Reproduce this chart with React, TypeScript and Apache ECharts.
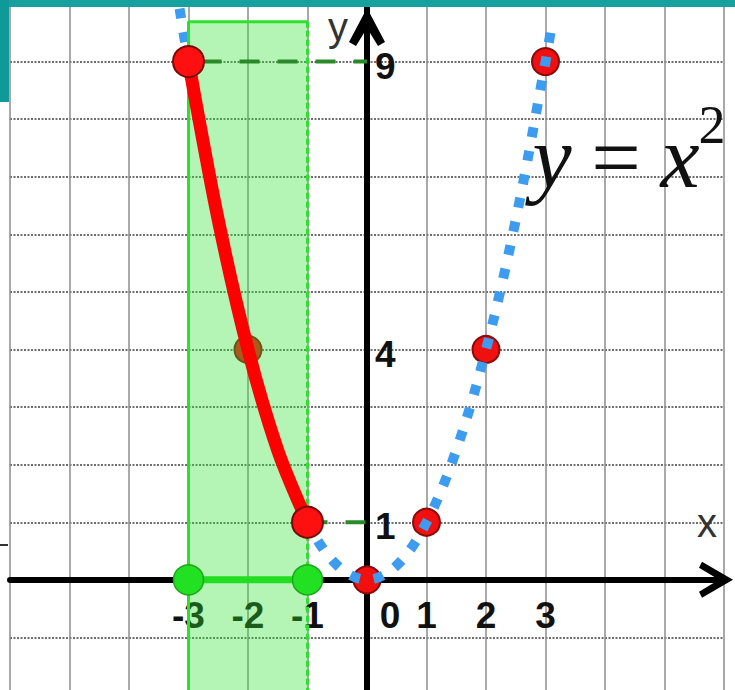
import React, { useEffect, useRef } from 'react';
import * as echarts from 'echarts';

// ---- data ----
const xTickLabels = ['-3', '-2', '-1', '0', '1', '2', '3'];
const yTickLabels = ['1', '4', '9'];

// dotted blue parabola y = x^2
const parabolaX = [-3.15, -3, -2.5, -2, -1.5, -1, -0.5, 0, 0.5, 1, 1.5, 2, 2.5, 3, 3.12];
const parabolaY = [9.92, 9, 6.25, 4, 2.25, 1, 0.25, 0, 0.25, 1, 2.25, 4, 6.25, 9, 9.73];

// red highlighted piece on [-3, -1]
const redX = [-3, -2.5, -2, -1.5, -1];
const redY = [9, 6.25, 4, 2.25, 1];

// red points on the curve
const smallPointsX = [-2, 0, 1, 2, 3];
const smallPointsY = [4, 0, 1, 4, 9];
const bigPointsX = [-3, -1];
const bigPointsY = [9, 1];

// green domain segment on the x axis
const domainX = [-3, -1];
const domainY = [0, 0];

// green shaded strip
const stripLeft = -3;
const stripRight = -1;
const stripTop = 9.69;
const stripBottom = -2;

// dashed guide lines
const guide9X = [-3, 0];
const guide9Y = [9, 9];
const guide1X = [-1, 0];
const guide1Y = [1, 1];

const pairs = (xs: number[], ys: number[]) => xs.map((x, i) => [x, ys[i]]);

const FONT = '"Liberation Sans", Arial, sans-serif';
const SERIF = '"Liberation Serif", "Times New Roman", serif';

export default function App() {
  const ref = useRef<HTMLDivElement>(null);

  useEffect(() => {
    if (!ref.current) return;
    const chart = echarts.init(ref.current, undefined, { renderer: 'svg' });

    const option: any = {
      animation: false,
      backgroundColor: '#ffffff',
      grid: { left: 10, top: 4, width: 714, height: 691, containLabel: false, outerBoundsMode: 'none' },
      xAxis: {
        type: 'value',
        min: -6,
        max: 6,
        interval: 1,
        position: 'bottom',
        offset: -115.2,
        axisLine: {
          onZero: false,
          lineStyle: { color: '#000', width: 6 },
          symbol: ['none', 'path://M18,0 L36,31 L30,34 L18,14 L6,34 L0,31 Z'],
          symbolSize: [36, 34],
          symbolOffset: [0, -8],
        },
        axisTick: { show: false },
        splitLine: { show: true, lineStyle: { color: '#8c8c8c', width: 1.5, type: 'solid' } },
        axisLabel: {
          margin: 17,
          fontSize: 37,
          fontWeight: 'bold',
          fontFamily: FONT,
          color: '#111',
          formatter: (v: number) => {
            const s = String(v);
            if (!xTickLabels.includes(s)) return '';
            return s === '0' ? '{z|0}' : s;
          },
          rich: {
            z: { fontSize: 37, fontWeight: 'bold', fontFamily: FONT, color: '#111', padding: [0, 0, 0, 46] },
          },
        },
      },
      yAxis: {
        type: 'value',
        min: -2,
        max: 10,
        interval: 1,
        position: 'left',
        offset: -357,
        axisLine: {
          onZero: false,
          lineStyle: { color: '#000', width: 6 },
          symbol: ['none', 'path://M18,0 L36,34 L29,38 L18,20 L7,38 L0,34 Z'],
          symbolSize: [36, 38],
          symbolOffset: [0, -23],
        },
        axisTick: { show: false },
        splitLine: { show: true, lineStyle: { color: '#6e6e6e', width: 2, type: [2, 1.5] } },
        axisLabel: {
          inside: true,
          margin: 8,
          fontSize: 37,
          fontWeight: 'bold',
          fontFamily: FONT,
          color: '#111',
          formatter: (v: number) => (yTickLabels.includes(String(v)) ? '{a|' + v + '}' : ''),
          rich: {
            a: { fontSize: 37, fontWeight: 'bold', fontFamily: FONT, color: '#111', padding: [9, 0, 0, 0] },
          },
        },
      },
      series: [
        {
          type: 'scatter',
          silent: true,
          z: 2,
          symbolSize: 27,
          data: pairs(smallPointsX, smallPointsY),
          itemStyle: { color: '#f01010', borderColor: '#8a0a0a', borderWidth: 2, opacity: 1 },
        },
        {
          type: 'line',
          silent: true,
          z: 3,
          smooth: 0.35,
          showSymbol: false,
          data: pairs(parabolaX, parabolaY),
          lineStyle: { color: '#3d9cf0', width: 10, type: [10, 14], cap: 'butt' },
        },
        {
          type: 'line',
          silent: true,
          data: [],
          markArea: {
            silent: true,
            z: 4,
            itemStyle: { color: 'rgba(46,224,46,0.36)', borderWidth: 0 },
            label: { show: false },
            data: [[{ coord: [stripLeft, stripTop] }, { coord: [stripRight, stripBottom] }]],
          },
        },
        {
          type: 'line',
          silent: true,
          z: 5,
          showSymbol: false,
          data: [[stripLeft, stripBottom], [stripLeft, stripTop], [stripRight, stripTop]],
          lineStyle: { color: '#2ee02e', width: 3 },
        },
        {
          type: 'line',
          silent: true,
          z: 5,
          showSymbol: false,
          data: [[stripRight, stripTop], [stripRight, stripBottom]],
          lineStyle: { color: '#2ee02e', width: 3, type: [6, 3] },
        },
        {
          type: 'line',
          silent: true,
          z: 5,
          showSymbol: false,
          data: pairs(guide9X, guide9Y),
          lineStyle: { color: '#2a8a2a', width: 4, type: [20, 18], dashOffset: 25 },
        },
        {
          type: 'line',
          silent: true,
          z: 5,
          showSymbol: false,
          data: pairs(guide1X, guide1Y),
          lineStyle: { color: '#2a8a2a', width: 4, type: [20, 18] },
        },
        {
          type: 'line',
          silent: true,
          z: 6,
          smooth: 0.3,
          showSymbol: false,
          data: pairs(redX, redY),
          lineStyle: { color: '#ff0000', width: 13, cap: 'round' },
        },
        {
          type: 'scatter',
          silent: true,
          z: 7,
          symbolSize: 31,
          data: pairs(bigPointsX, bigPointsY),
          itemStyle: { color: '#ff1010', borderColor: '#7a0a0a', borderWidth: 2, opacity: 1 },
        },
        {
          type: 'line',
          silent: true,
          z: 7,
          showSymbol: false,
          data: pairs(domainX, domainY),
          lineStyle: { color: '#22dd22', width: 7 },
        },
        {
          type: 'scatter',
          silent: true,
          z: 8,
          symbolSize: 30,
          data: pairs(domainX, domainY),
          itemStyle: { color: '#22e022', borderColor: '#18a818', borderWidth: 1.5, opacity: 1 },
        },
      ],
      graphic: [
        { type: 'rect', z: 100, silent: true, shape: { x: 0, y: 0, width: 735, height: 7 }, style: { fill: '#16a09e' } },
        { type: 'rect', z: 100, silent: true, shape: { x: 0, y: 0, width: 9, height: 102 }, style: { fill: '#0f9a99' } },
        { type: 'line', z: 100, silent: true, shape: { x1: 0, y1: 545, x2: 8, y2: 545 }, style: { stroke: '#333', lineWidth: 2 } },
        {
          type: 'text', z: 100, silent: true,
          style: { text: 'x', x: 707, y: 523, font: `40px ${FONT}`, fill: '#333', align: 'center', verticalAlign: 'middle' },
        },
        {
          type: 'text', z: 100, silent: true,
          style: { text: 'y', x: 338, y: 27, font: `40px ${FONT}`, fill: '#333', align: 'center', verticalAlign: 'middle' },
        },
        {
          type: 'text', z: 100, silent: true,
          style: { text: 'y', x: 552, y: 157, font: `italic 88px ${SERIF}`, fill: '#111', align: 'center', verticalAlign: 'middle' },
        },
        {
          type: 'text', z: 100, silent: true,
          style: { text: '=', x: 616, y: 157, font: `88px ${SERIF}`, fill: '#111', align: 'center', verticalAlign: 'middle' },
        },
        {
          type: 'text', z: 100, silent: true,
          style: { text: 'x', x: 680, y: 157, font: `italic 88px ${SERIF}`, fill: '#111', align: 'center', verticalAlign: 'middle' },
        },
        {
          type: 'text', z: 100, silent: true,
          style: { text: '2', x: 712, y: 125, font: `54px ${SERIF}`, fill: '#111', align: 'center', verticalAlign: 'middle' },
        },
      ],
    };

    chart.setOption(option);
    return () => chart.dispose();
  }, []);

  return (
    <div
      ref={ref}
      style={{ position: 'fixed', left: 0, top: 0, width: 735, height: 690, background: '#fff' }}
    />
  );
}
